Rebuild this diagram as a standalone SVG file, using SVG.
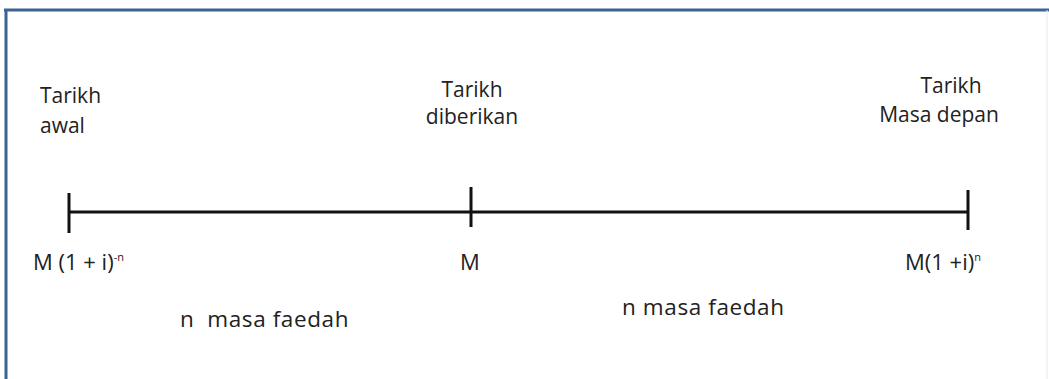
<svg xmlns="http://www.w3.org/2000/svg" width="1049" height="379" viewBox="0 0 1049 379">
<style>
.t{font-family:"Open Sans","Noto Sans",sans-serif;font-size:21px;fill:#222}
.m{font-family:"Open Sans","Noto Sans",sans-serif;font-size:22px;fill:#222}
.f{font-family:"Open Sans","Noto Sans",sans-serif;font-size:22.5px;fill:#222;letter-spacing:0.6px}
.s{font-family:"Open Sans","Noto Sans",sans-serif;font-size:11px;fill:#222}
.ln{stroke:#111;stroke-width:3;fill:none}
</style>
<rect x="0" y="0" width="1049" height="379" fill="#fff"/>
<g id="frame">
<line x1="4" y1="10" x2="1049" y2="10" stroke="#3a6494" stroke-width="3"/>
<line x1="6" y1="9" x2="6" y2="379" stroke="#3a6494" stroke-width="3"/>
<line x1="1047" y1="10" x2="1047" y2="379" stroke="#e4ecf2" stroke-width="1"/>
</g>
<g id="connectors">
<line class="ln" x1="69" y1="212" x2="969" y2="212"/>
</g>
<g id="node-awal">
<line class="ln" x1="69" y1="193" x2="69" y2="233"/>
<text class="t" x="40" y="103">Tarikh</text>
<text class="t" x="40" y="133">awal</text>
<text class="m" x="33" y="270">M (1 + i)<tspan class="s" dy="-9">-n</tspan></text>
</g>
<g id="node-diberikan">
<line class="ln" x1="471" y1="187" x2="471" y2="227"/>
<text class="t" x="472" y="97" text-anchor="middle">Tarikh</text>
<text class="t" x="472" y="124" text-anchor="middle">diberikan</text>
<text class="m" x="470" y="270" text-anchor="middle">M</text>
</g>
<g id="node-depan">
<line class="ln" x1="968" y1="190" x2="968" y2="230"/>
<text class="t" x="951" y="93" text-anchor="middle">Tarikh</text>
<text class="t" x="939" y="122" text-anchor="middle">Masa depan</text>
<text class="m" x="905" y="270">M(1 +i)<tspan class="s" dy="-9">n</tspan></text>
</g>
<g id="labels">
<text class="f" x="180" y="327" xml:space="preserve">n  masa faedah</text>
<text class="f" x="622" y="315">n masa faedah</text>
</g>
</svg>
